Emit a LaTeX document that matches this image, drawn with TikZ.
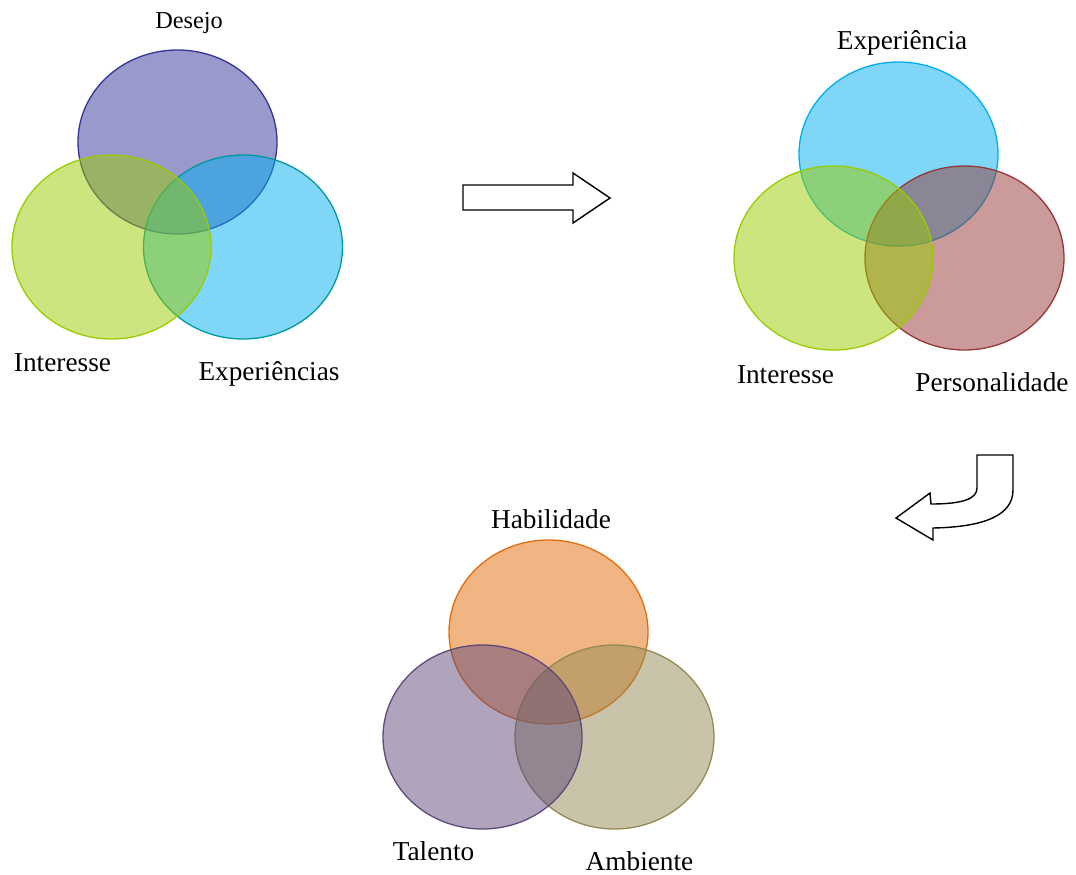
\documentclass[tikz,border=0pt]{standalone}
\usepackage{fontspec}
\setmainfont{Liberation Serif}
\usepackage{tikz}

\definecolor{desejoC}{HTML}{333399}
\definecolor{cianoC}{HTML}{00AEEF}
\definecolor{tealC}{HTML}{0099A0}
\definecolor{verdeC}{HTML}{99CC00}
\definecolor{vermC}{HTML}{953735}
\definecolor{laranjaC}{HTML}{E46C0A}
\definecolor{roxoC}{HTML}{5F497A}
\definecolor{oliveC}{HTML}{938953}

\tikzset{
  venn/.style={line width=1.3pt, fill opacity=0.5},
  rotulo/.style={anchor=base, inner sep=0pt, font=\fontsize{27.3}{32}\selectfont},
  seta/.style={draw=black, line width=1.4pt, fill=white, line join=miter}
}

\begin{document}
\begin{tikzpicture}[x=1pt,y=-1pt]
\useasboundingbox (0,0) rectangle (1076,875);

% primeiro grupo
\coordinate (D1) at (177.5,142);
\coordinate (I1) at (111.5,247);
\coordinate (E1) at (243,247);

\filldraw[venn, fill=desejoC, draw=desejoC] (D1) ellipse [x radius=99.5, y radius=92];
\filldraw[venn, fill=cianoC, draw=tealC] (E1) ellipse [x radius=99.5, y radius=92];
\filldraw[venn, fill=verdeC, draw=verdeC] (I1) ellipse [x radius=99.5, y radius=92];

\node[rotulo, font=\fontsize{24.3}{28}\selectfont] (desejo) at (189,29) {Desejo};
\node[rotulo] (interesse1) at (62.5,371) {Interesse};
\node[rotulo] (experiencias) at (269,380) {Experiências};

% segundo grupo
\coordinate (E2) at (898.5,154);
\coordinate (I2) at (833.5,258);
\coordinate (P2) at (964.5,258);

\filldraw[venn, fill=cianoC, draw=cianoC] (E2) ellipse [x radius=99.5, y radius=92];
\filldraw[venn, fill=vermC, draw=vermC] (P2) ellipse [x radius=99.5, y radius=92];
\filldraw[venn, fill=verdeC, draw=verdeC] (I2) ellipse [x radius=99.5, y radius=92];

\node[rotulo] (experiencia) at (902,49) {Experiência};
\node[rotulo] (interesse2) at (785.5,383) {Interesse};
\node[rotulo] (personalidade) at (992,391) {Personalidade};

% terceiro grupo
\coordinate (H3) at (548.5,632);
\coordinate (T3) at (482.5,737);
\coordinate (A3) at (614.5,737);

\filldraw[venn, fill=laranjaC, draw=laranjaC] (H3) ellipse [x radius=99.5, y radius=92];
\filldraw[venn, fill=oliveC, draw=oliveC] (A3) ellipse [x radius=99.5, y radius=92];
\filldraw[venn, fill=roxoC, draw=roxoC] (T3) ellipse [x radius=99.5, y radius=92];

\node[rotulo] (habilidade) at (551,528) {Habilidade};
\node[rotulo] (talento) at (433.5,860) {Talento};
\node[rotulo] (ambiente) at (639.5,870) {Ambiente};

% setas
\draw[seta] (463,185) -- (573,185) -- (573,173) -- (610,198) -- (573,223)
  -- (573,210) -- (463,210) -- cycle;
\draw[seta] (977,455) -- (1013,455) -- (1013,490)
  .. controls (1013,515) and (985,527) .. (933,528)
  -- (933,540) -- (896,518) -- (930,493) -- (931,504)
  .. controls (965,504) and (977,498) .. (977,488) -- cycle;
\end{tikzpicture}
\end{document}
